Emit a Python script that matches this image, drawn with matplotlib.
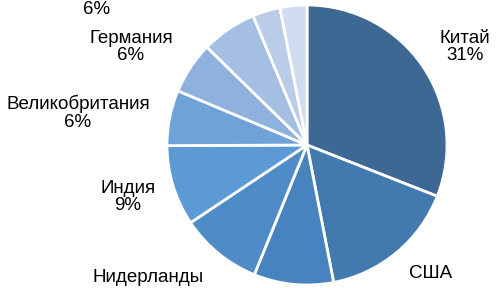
import matplotlib.pyplot as plt

# slice shares, clockwise from 12 o'clock
countries = ['Китай', 'США', '', 'Нидерланды', 'Индия', 'Великобритания',
             'Германия', '', '', '']
shares = [31, 16, 9.2, 9.5, 9.3, 6.4, 6.0, 6.4, 3.2, 3.1]
colors = ['#3d6894', '#427aaf', '#4783be', '#4f8bc7', '#5b9ad5', '#6fa2d8',
          '#8eb1de', '#a5bfe3', '#bacce8', '#d0dcef']

# label texts and where they sit (pixel coords, y down)
label_texts = ['Китай\n31%', 'США', 'Нидерланды', 'Индия\n9%',
               'Великобритания\n6%', 'Германия\n6%', '6%']
label_pos = [(465, 47), (431, 274), (148, 277), (128, 197),
             (78, 113), (131, 47), (97, 10)]

W, H = 496, 288
fig = plt.figure(figsize=(W / 100, H / 100), dpi=100)
ax = fig.add_axes([0, 0, 1, 1])

ax.pie(shares, colors=colors, startangle=90, counterclock=False,
       radius=140, center=(307, H - 145),
       wedgeprops=dict(edgecolor='white', linewidth=2))

for txt, (x, y) in zip(label_texts, label_pos):
    ax.text(x, H - y, txt, ha='center', va='center', fontsize=13.5,
            family='Liberation Sans', linespacing=1.05)

ax.set_xlim(0, W)
ax.set_ylim(0, H)
ax.set_aspect('equal')
ax.axis('off')

plt.savefig('out.png', dpi=100)
plt.close()
